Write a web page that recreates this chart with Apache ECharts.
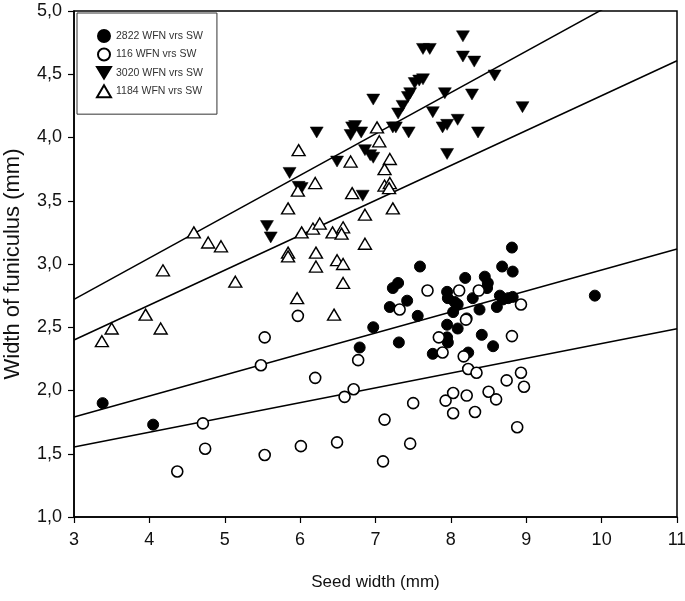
<!DOCTYPE html>
<html><head><meta charset="utf-8">
<script src="https://cdn.jsdelivr.net/npm/echarts@6/dist/echarts.min.js"></script>
<style>html,body{margin:0;padding:0;background:#fff}#c{width:685px;height:601px}</style>
</head><body><div id="c"></div>
<script>
// Series names (legend order)
const seriesNames = ['2822 WFN vrs SW', '116 WFN vrs SW', '3020 WFN vrs SW', '1184 WFN vrs SW'];

// [seed width, funiculus width]
const pts2822 = [[3.38,1.90],[4.05,1.73],[7.59,2.98],[7.23,2.81],[7.30,2.85],[7.19,2.66],[7.42,2.71],[7.56,2.59],
  [6.97,2.50],[6.79,2.34],[7.31,2.38],[7.95,2.78],[7.96,2.73],[8.05,2.70],[8.09,2.68],[8.03,2.62],[7.95,2.52],
  [7.95,2.42],[7.96,2.38],[7.76,2.29],[8.09,2.49],[8.19,2.89],[8.21,2.57],[8.29,2.73],[8.38,2.64],[8.23,2.30],
  [8.41,2.44],[8.45,2.90],[8.49,2.85],[8.48,2.81],[8.61,2.66],[8.65,2.75],[8.69,2.72],[8.56,2.35],[8.68,2.98],
  [8.81,3.13],[8.82,2.94],[8.82,2.74],[8.76,2.73],[9.91,2.75]];
const pts116 = [[4.37,1.36],[4.74,1.54],[4.71,1.74],[5.53,1.49],[5.48,2.20],[5.53,2.42],[6.01,1.56],[6.20,2.10],
  [5.97,2.59],[6.49,1.59],[6.59,1.95],[6.71,2.01],[6.77,2.24],[7.12,1.77],[7.46,1.58],[7.10,1.44],[7.50,1.90],
  [7.69,2.79],[7.32,2.64],[8.11,2.79],[8.37,2.79],[8.20,2.56],[7.84,2.42],[7.89,2.30],[8.17,2.27],[8.23,2.17],
  [8.34,2.14],[8.93,2.68],[8.81,2.43],[7.93,1.92],[8.03,1.98],[8.03,1.82],[8.21,1.96],[8.32,1.83],[8.50,1.99],
  [8.60,1.93],[8.74,2.08],[8.93,2.14],[8.97,2.03],[8.88,1.71]];
const pts3020 = [[5.56,3.30],[5.61,3.21],[5.86,3.72],[5.98,3.61],[6.02,3.60],[6.22,4.04],[6.49,3.81],[6.69,4.08],
  [6.73,4.09],[6.67,4.02],[6.81,4.04],[6.86,3.90],[6.93,3.86],[6.97,3.84],[6.97,4.30],[6.83,3.54],[7.23,4.08],
  [7.27,4.08],[7.44,4.04],[7.30,4.19],[7.36,4.25],[7.43,4.32],[7.46,4.35],[7.52,4.43],[7.58,4.45],[7.63,4.46],
  [7.63,4.70],[7.72,4.70],[8.16,4.80],[8.16,4.64],[8.31,4.60],[7.92,4.35],[7.76,4.20],[7.95,4.10],[7.89,4.08],
  [8.09,4.14],[8.28,4.34],[8.58,4.49],[8.95,4.24],[8.36,4.04],[7.95,3.87]];
const pts1184 = [[3.37,2.39],[3.50,2.49],[3.95,2.60],[4.15,2.49],[4.18,2.95],[4.59,3.25],[4.78,3.17],[4.95,3.14],
  [5.14,2.86],[5.84,3.44],[5.84,3.09],[5.84,3.06],[5.96,2.73],[5.98,3.90],[5.97,3.58],[6.20,3.64],[6.02,3.25],
  [6.17,3.28],[6.26,3.32],[6.21,3.09],[6.21,2.98],[6.43,3.25],[6.57,3.29],[6.55,3.24],[6.49,3.03],[6.57,3.00],
  [6.57,2.85],[6.45,2.60],[6.86,3.39],[6.86,3.16],[6.67,3.81],[6.69,3.56],[7.02,4.08],[7.05,3.97],[7.19,3.83],
  [7.12,3.75],[7.12,3.62],[7.19,3.64],[7.18,3.60],[7.23,3.44]];

// Linear fits (same order as seriesNames): y = intercept + slope * x
const fitIntercept = [1.292, 1.202, 1.739, 1.571];
const fitSlope = [0.166, 0.117, 0.327, 0.276];

// Axis ticks
const xTicks = [3, 4, 5, 6, 7, 8, 9, 10, 11];
const yTickLabels = ['1,0', '1,5', '2,0', '2,5', '3,0', '3,5', '4,0', '4,5', '5,0'];

const font = '"Liberation Sans", Arial, sans-serif';

const xMin = xTicks[0], xMax = xTicks[xTicks.length - 1];
const allPts = [pts2822, pts116, pts3020, pts1184];
const symbols = [
  { symbol: 'circle', symbolSize: 11, itemStyle: { color: '#000', borderColor: '#000', borderWidth: 1, opacity: 1 } },
  { symbol: 'circle', symbolSize: 11, itemStyle: { color: '#fff', borderColor: '#000', borderWidth: 1.6, opacity: 1 } },
  { symbol: 'path://M0,0L12,0L6,10Z', symbolSize: [13, 11], itemStyle: { color: '#000', borderColor: '#000', borderWidth: 0.5, opacity: 1 } },
  { symbol: 'triangle', symbolSize: [13, 11], itemStyle: { color: '#fff', borderColor: '#000', borderWidth: 1.4, opacity: 1 } }
];

const series = [];
for (let i = 0; i < 4; i++) {
  series.push({
    type: 'line', silent: true, showSymbol: false, z: 1, clip: true,
    data: [[xMin, fitIntercept[i] + fitSlope[i] * xMin], [xMax, fitIntercept[i] + fitSlope[i] * xMax]],
    lineStyle: { color: '#000', width: 1.5 }
  });
}
for (let i = 0; i < 4; i++) {
  series.push(Object.assign({ type: 'scatter', name: seriesNames[i], data: allPts[i], z: 3 }, symbols[i]));
}

const chart = echarts.init(document.getElementById('c'), null, { renderer: 'canvas' });
chart.setOption({
  animation: false,
  backgroundColor: '#fff',
  grid: { left: 74, right: 8, top: 11, bottom: 84, containLabel: false, outerBoundsMode: 'none',
    show: true, borderColor: '#000', borderWidth: 1.5 },
  legend: {
    data: seriesNames, orient: 'vertical', left: 77, top: 13,
    padding: [16, 14, 16, 19], itemWidth: 14, itemHeight: 12, itemGap: 4.5,
    borderColor: '#333', borderWidth: 1, backgroundColor: '#fff',
    textStyle: { fontSize: 10.5, color: '#333', fontFamily: font }
  },
  xAxis: {
    type: 'value', min: xMin, max: xMax, interval: 1,
    name: 'Seed width (mm)', nameLocation: 'middle', nameGap: 57,
    nameTextStyle: { fontSize: 17, color: '#111', fontFamily: font },
    axisLine: { onZero: false, lineStyle: { color: '#000', width: 1.5 } },
    axisTick: { show: true, inside: false, length: 6, lineStyle: { color: '#000', width: 1.2 } },
    axisLabel: { margin: 14, fontSize: 18, color: '#111', fontFamily: font },
    splitLine: { show: false }
  },
  yAxis: {
    type: 'value', min: 1, max: 5, interval: 0.5,
    name: 'Width of funiculus (mm)', nameLocation: 'middle', nameGap: 50,
    nameTextStyle: { fontSize: 22, color: '#111', fontFamily: font },
    axisLine: { onZero: false, lineStyle: { color: '#000', width: 1.5 } },
    axisTick: { show: true, inside: false, length: 6, lineStyle: { color: '#000', width: 1.2 } },
    axisLabel: { margin: 12, fontSize: 18, color: '#111', fontFamily: font,
      formatter: v => yTickLabels[Math.round((v - 1) / 0.5)] },
    splitLine: { show: false }
  },
  series: series
});
</script></body></html>
